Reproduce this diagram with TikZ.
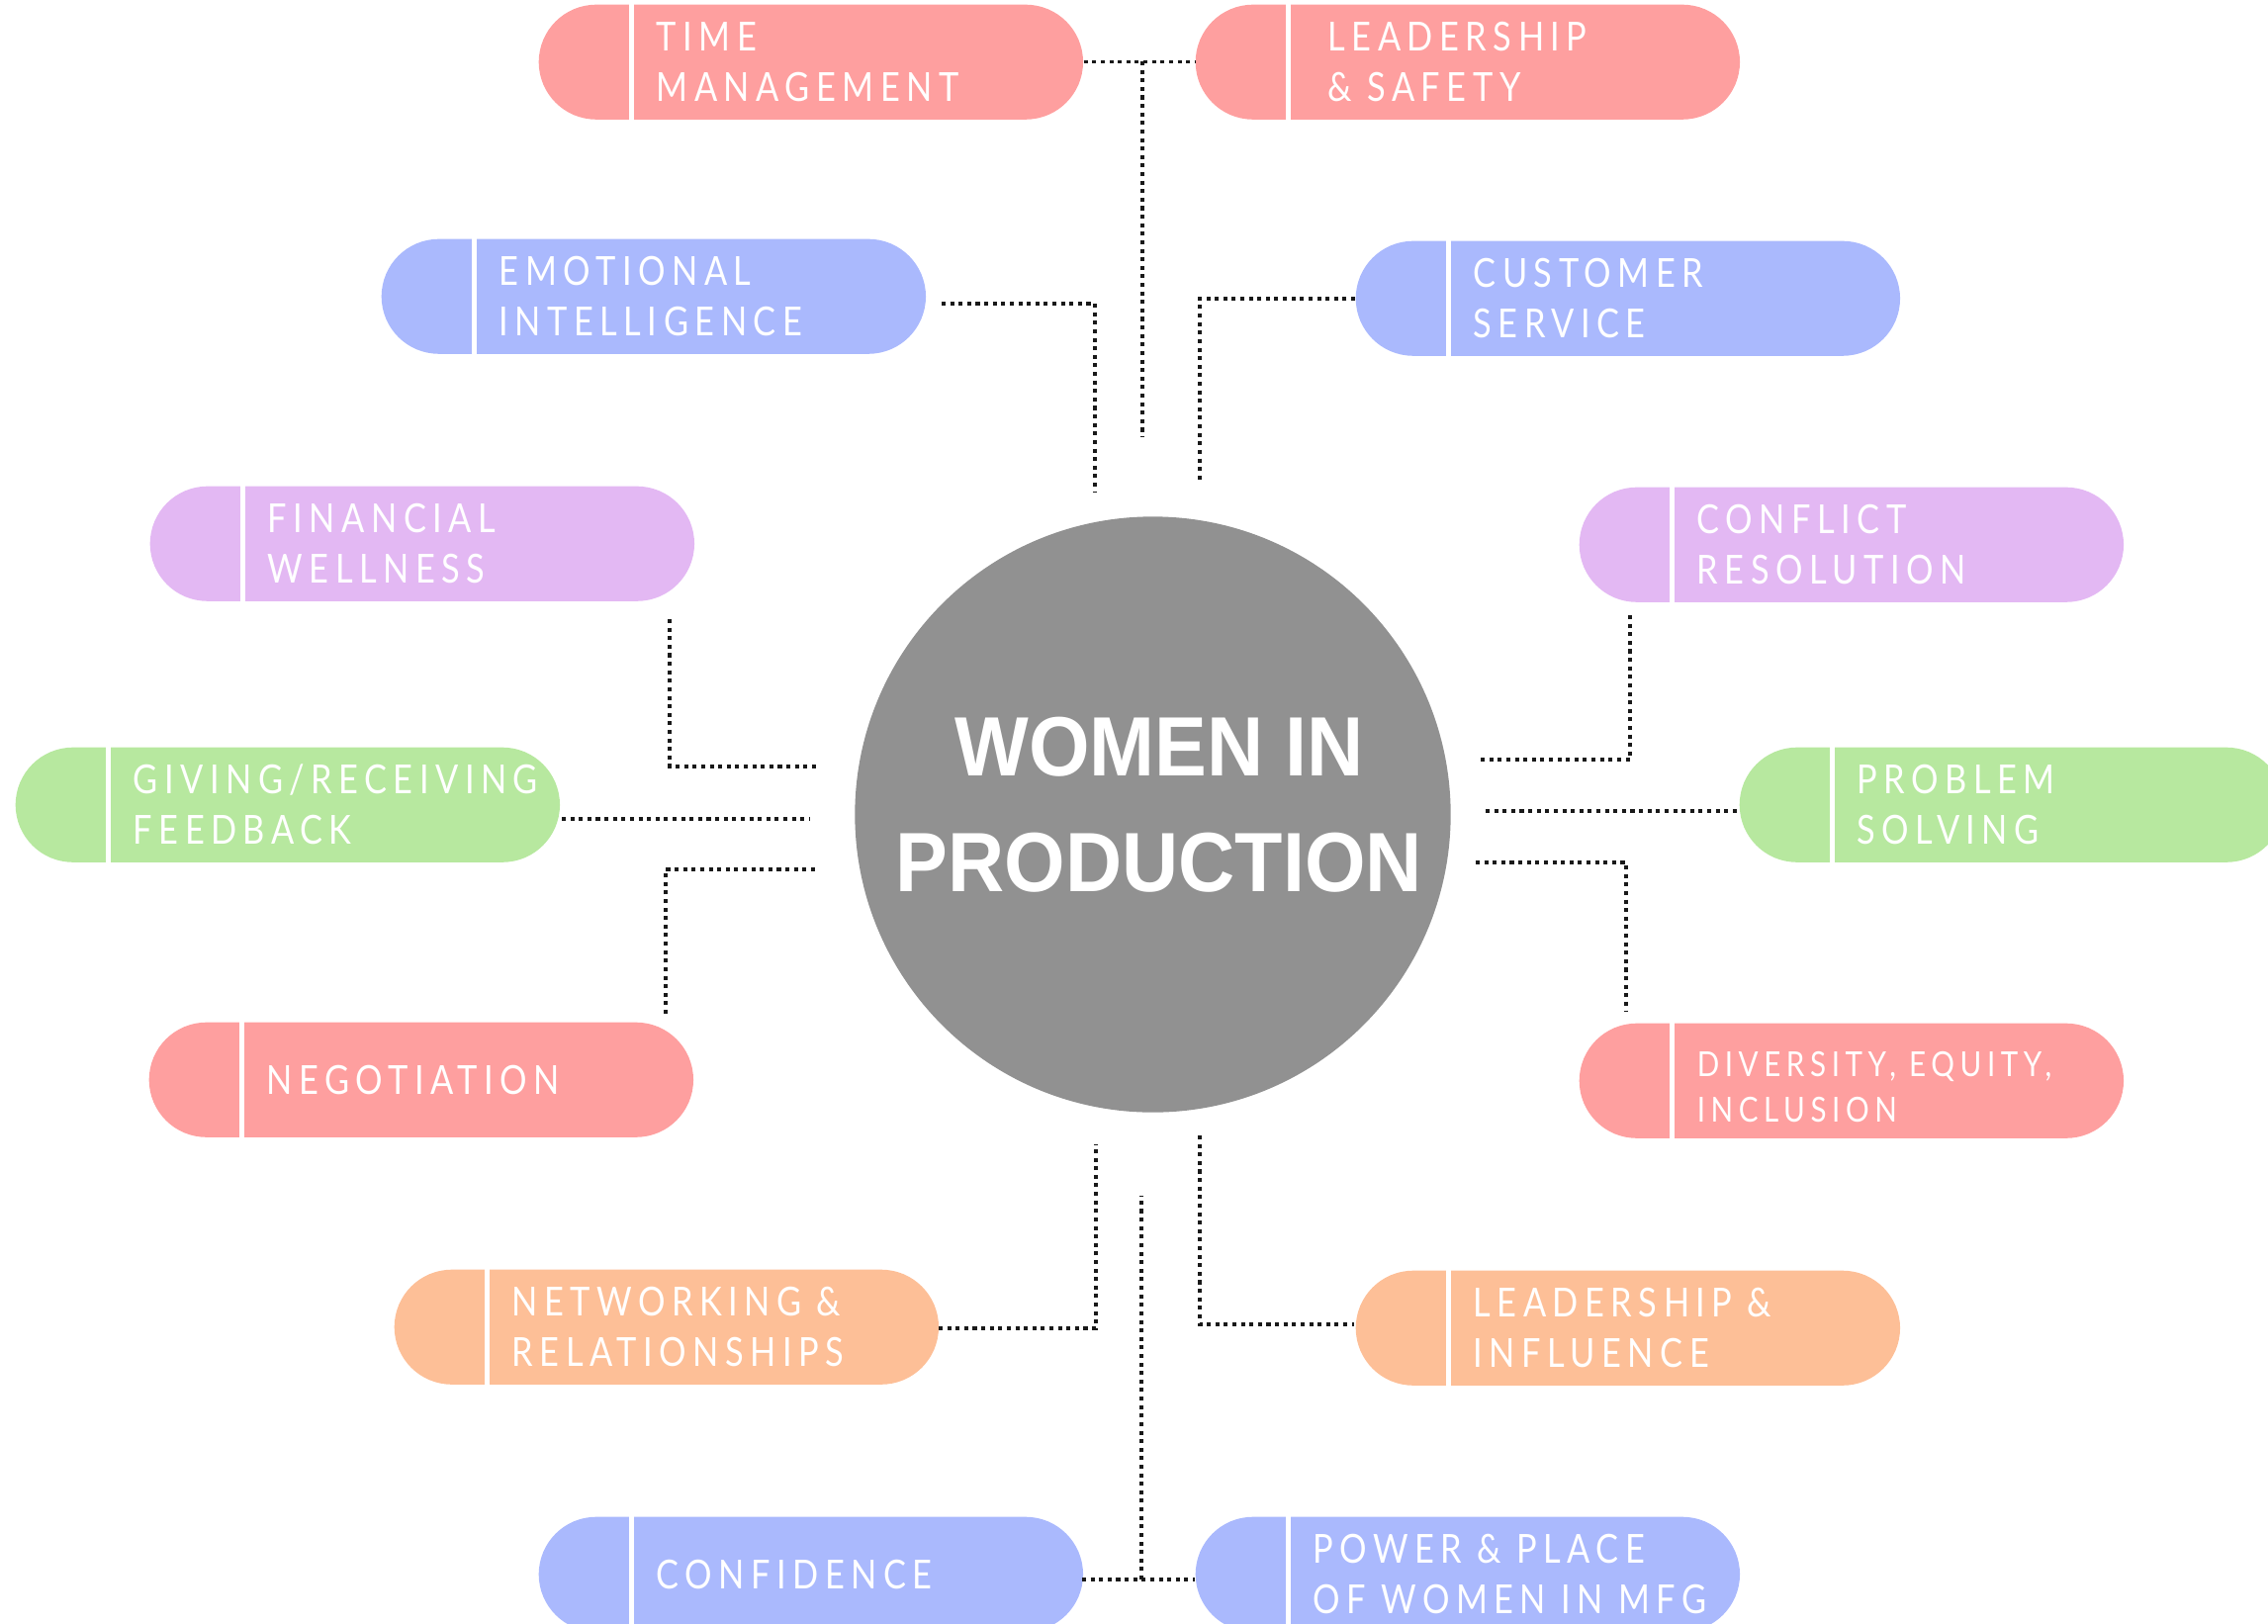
\documentclass[tikz,border=0pt]{standalone}
\usepackage{fontspec}
\newfontfamily\pillfont[LetterSpace=16,FakeStretch=0.85]{Lato}
\newfontfamily\titlefont[FakeStretch=0.93]{Liberation Sans}
\definecolor{cred}{HTML}{FE9F9F}
\definecolor{cblue}{HTML}{AAB9FD}
\definecolor{cpurp}{HTML}{E3B8F3}
\definecolor{cgreen}{HTML}{B7E89F}
\definecolor{corange}{HTML}{FDBF97}
\definecolor{hubgrey}{HTML}{919191}
\newcommand\mkpill[6]{%
  \node[pill, fill=#4, anchor=north west] (#1) at (#2,#3) {};
  \draw[divider] ([xshift=0.94cm]#1.north west) -- ([xshift=0.94cm]#1.south west);
  \node[ptext, #6] (#1t) at ([xshift=1.19cm]#1.west) {#5};
}
\begin{document}
\begin{tikzpicture}[x=0.01cm,y=-0.01cm,
  pill/.style={rectangle, rounded corners=0.58cm, minimum width=5.5cm, minimum height=1.16cm, inner sep=0pt, draw=none},
  divider/.style={white, line width=1.4pt},
  ptext/.style={text=white, align=left, inner sep=0pt, anchor=west, font=\pillfont\fontsize{11.5}{14.5}\selectfont},
  conn/.style={line width=1pt, dash pattern=on 1.15pt off 1.3pt, draw=black!90}]
\path[use as bounding box] (0,0) rectangle (2293,1642);
\clip (0,0) rectangle (2293,1642);

% hub
\node[circle, fill=hubgrey, minimum size=6.02cm, inner sep=0pt] (hub) at (1165.5,823.5) {};
\node[font=\titlefont\bfseries\fontsize{24.2}{33.2}\selectfont, text=white, align=center, inner sep=0pt] (title) at (1172,814) {WOMEN IN\\PRODUCTION};

% pills
\mkpill{tm}{544}{4}{cred}{TIME\\MANAGEMENT}{}
\mkpill{ls}{1208}{4}{cred}{LEADERSHIP\\\& SAFETY}{xshift=0.15cm}
\mkpill{ei}{385}{241}{cblue}{EMOTIONAL\\INTELLIGENCE}{}
\mkpill{cs}{1370}{243}{cblue}{CUSTOMER\\SERVICE}{}
\mkpill{fw}{151}{491}{cpurp}{FINANCIAL\\WELLNESS}{}
\mkpill{cr}{1596}{492}{cpurp}{CONFLICT\\RESOLUTION}{}
\mkpill{grf}{15}{755}{cgreen}{GIVING/RECEIVING\\FEEDBACK}{}
\mkpill{ps}{1758}{755}{cgreen}{PROBLEM\\SOLVING}{}
\mkpill{neg}{150}{1033}{cred}{NEGOTIATION}{}
\mkpill{dei}{1596}{1034}{cred}{DIVERSITY, EQUITY,\\INCLUSION}{font=\pillfont\fontsize{9.9}{13.0}\selectfont, yshift=-0.06cm}
\mkpill{nr}{398}{1283}{corange}{NETWORKING \&\\RELATIONSHIPS}{}
\mkpill{li}{1370}{1284}{corange}{LEADERSHIP \&\\INFLUENCE}{}
\mkpill{conf}{544}{1533}{cblue}{CONFIDENCE}{}
\mkpill{pp}{1208}{1533}{cblue}{POWER \& PLACE\\OF WOMEN IN MFG}{}

% connector end points
\coordinate (tmj) at (1155,62);
\coordinate (topend) at (1155,442);
\coordinate (ei1) at (952,307);
\coordinate (ei2) at (1107,497);
\coordinate (cs2) at (1213,488);
\coordinate (fw1) at (677,626);
\coordinate (fw2) at (828,775);
\coordinate (grf1) at (568,828);
\coordinate (grf2) at (819,828);
\coordinate (ps1) at (1502,820);
\coordinate (ps2) at (1757,820);
\coordinate (cr1) at (1648,622);
\coordinate (cr2) at (1497,768);
\coordinate (dei1) at (1492,872);
\coordinate (dei2) at (1644,1022);
\coordinate (neg1) at (673,1025);
\coordinate (neg2) at (824,879);
\coordinate (nr1) at (949,1343);
\coordinate (nr2) at (1108,1157);
\coordinate (li1) at (1213,1148);
\coordinate (li2) at (1369,1339);
\coordinate (cf1) at (1094,1597);
\coordinate (pp1) at (1208,1597);
\coordinate (bj) at (1154,1597);
\coordinate (bottomend) at (1154,1209);

% connectors
\draw[conn] (tm.east) -- (ls.west);
\draw[conn] (tmj) -- (topend);
\draw[conn] (ei1) -| (ei2);
\draw[conn] (cs.west) -| (cs2);
\draw[conn] (fw1) |- (fw2);
\draw[conn] (grf1) -- (grf2);
\draw[conn] (ps1) -- (ps2);
\draw[conn] (cr1) |- (cr2);
\draw[conn] (dei1) -| (dei2);
\draw[conn] (neg1) |- (neg2);
\draw[conn] (nr1) -| (nr2);
\draw[conn] (li1) |- (li2);
\draw[conn] (cf1) -- (pp1);
\draw[conn] (bj) -- (bottomend);
\end{tikzpicture}
\end{document}
